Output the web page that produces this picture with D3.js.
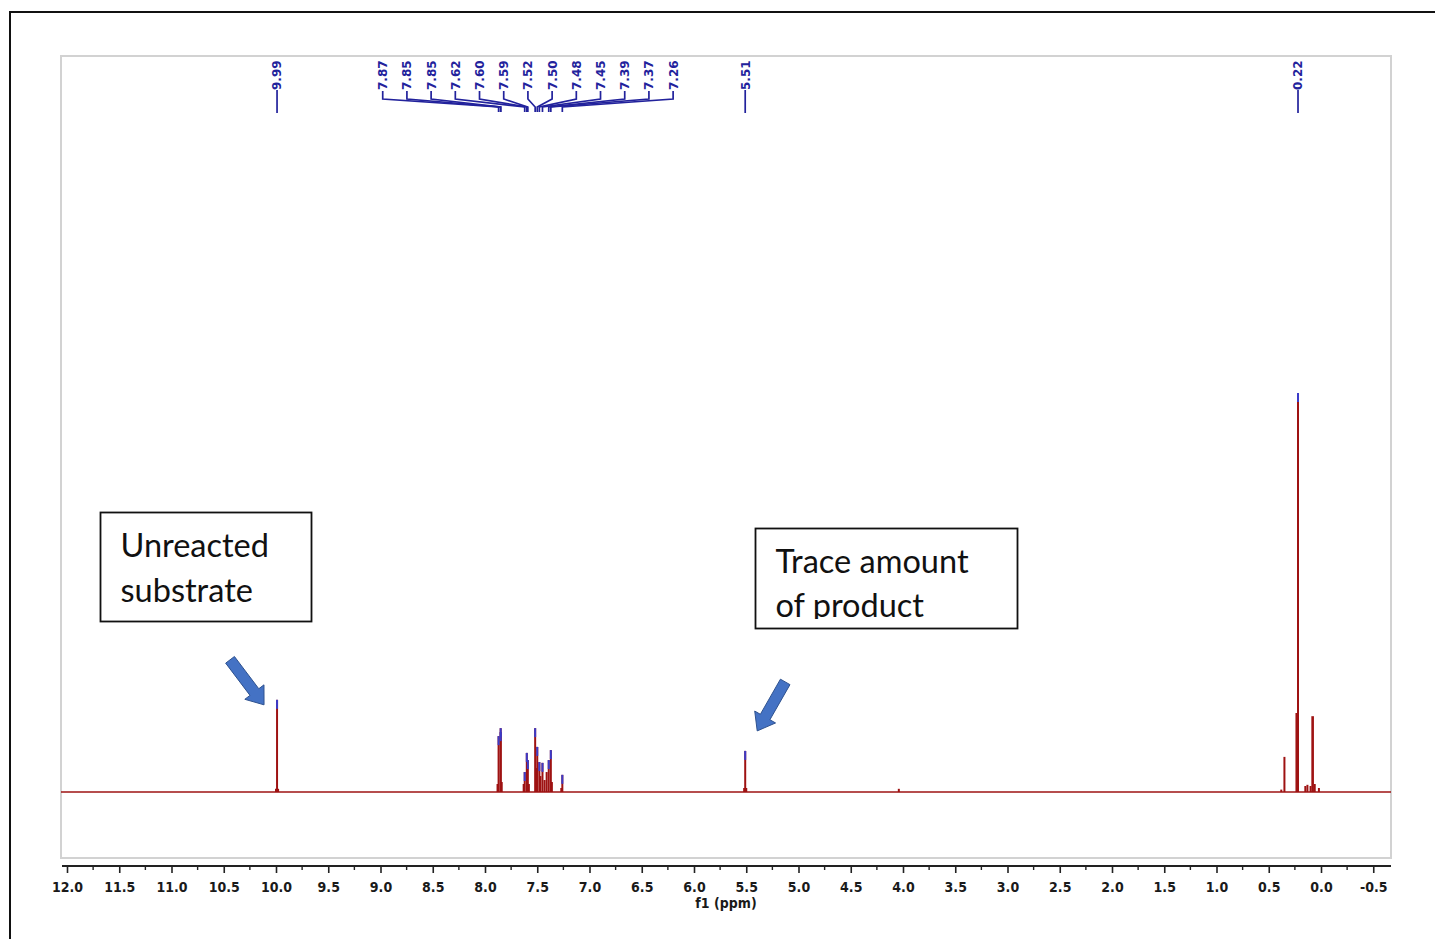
<!DOCTYPE html>
<html>
<head>
<meta charset="utf-8">
<script src="https://cdn.jsdelivr.net/npm/d3@7"></script>
<style>
  html, body { margin: 0; padding: 0; background: #fff; overflow: hidden; }
  svg { display: block; }
</style>
</head>
<body>
<svg id="chart" width="1435" height="939"></svg>
<script>
// Picked 1H NMR lines (ppm) and their intensities, scaled so the 0.22 ppm line = 100
const pickedShifts  = [9.99, 7.87, 7.85, 7.85, 7.62, 7.60, 7.59, 7.52, 7.50, 7.48, 7.45, 7.39, 7.37, 7.26, 5.51, 0.22];
const pickedHeights = [23.1, 14.0, 16.0, 15.0, 5.0, 9.8, 8.0, 16.0, 11.3, 7.5, 7.3, 8.0, 10.5, 4.3, 10.3, 100];
const pickedLabels  = ["9.99", "7.87", "7.85", "7.85", "7.62", "7.60", "7.59", "7.52", "7.50", "7.48", "7.45", "7.39", "7.37", "7.26", "5.51", "0.22"];

// Lines that were not picked (shoulders, satellites, small impurities)
const otherShifts  = [10.00, 9.98, 7.88, 7.84, 7.63, 7.58, 7.51, 7.47, 7.43, 7.41, 7.36, 7.27, 5.52, 5.50, 4.04, 0.35, 0.232, 0.15, 0.13, 0.10, 0.08, 0.06, 0.02, 0.38];
const otherHeights = [0.8, 0.8, 2.0, 2.5, 2.0, 2.0, 6.0, 4.0, 3.0, 5.0, 2.5, 1.0, 1.0, 1.0, 0.8, 8.8, 19.8, 1.5, 1.8, 1.5, 19.0, 2.0, 1.0, 0.6];

// Chemical shift axis
const xTickValues = [12.0, 11.5, 11.0, 10.5, 10.0, 9.5, 9.0, 8.5, 8.0, 7.5, 7.0, 6.5, 6.0, 5.5, 5.0, 4.5, 4.0, 3.5, 3.0, 2.5, 2.0, 1.5, 1.0, 0.5, 0.0, -0.5];
const xTickLabels = ["12.0", "11.5", "11.0", "10.5", "10.0", "9.5", "9.0", "8.5", "8.0", "7.5", "7.0", "6.5", "6.0", "5.5", "5.0", "4.5", "4.0", "3.5", "3.0", "2.5", "2.0", "1.5", "1.0", "0.5", "0.0", "-0.5"];
const xAxisTitle = "f1 (ppm)";

// Callout texts
const calloutSubstrate = ["Unreacted", "substrate"];
const calloutProduct = ["Trace amount", "of product"];

const svg = d3.select("#chart");

// frame and plot area
const box = { left: 61, top: 56, right: 1391, bottom: 858 };
const x = d3.scaleLinear().domain([12, 0]).range([67, 1321]);
const y = d3.scaleLinear().domain([0, 100]).range([792, 393]);

const RED = "#9e1212";
const BLUE_TIP = "#3b3bc8";
const LABEL_BLUE = "#22229c";
const AXIS_FONT = "'DejaVu Sans Condensed', 'DejaVu Sans', sans-serif";

// outer page frame
svg.append("rect")
  .attr("x", 10).attr("y", 12)
  .attr("width", 1500).attr("height", 1000)
  .attr("fill", "none").attr("stroke", "#111").attr("stroke-width", 2);

// spectrum panel
svg.append("rect")
  .attr("x", box.left).attr("y", box.top)
  .attr("width", box.right - box.left).attr("height", box.bottom - box.top)
  .attr("fill", "#fff").attr("stroke", "#d2d2d2").attr("stroke-width", 2);

// ---- x axis ----
const axisY = 866;
const xAxis = d3.axisBottom(x)
  .tickValues(xTickValues)
  .tickFormat((d, i) => xTickLabels[i])
  .tickSize(7)
  .tickPadding(9)
  .tickSizeOuter(0);

const gx = svg.append("g").attr("transform", `translate(0,${axisY})`).call(xAxis);
gx.select(".domain").remove();
gx.selectAll(".tick line").attr("stroke", "#222").attr("stroke-width", 1.6);
gx.selectAll(".tick text")
  .attr("fill", "#1a1a1a")
  .attr("font-family", AXIS_FONT)
  .attr("font-stretch", "condensed")
  .attr("font-weight", "bold")
  .attr("font-size", 14)
  .attr("dy", "0.71em");

// axis baseline across the whole panel width
svg.append("line")
  .attr("x1", box.left + 1).attr("x2", box.right)
  .attr("y1", axisY).attr("y2", axisY)
  .attr("stroke", "#222").attr("stroke-width", 2);

// minor ticks halfway between labelled ticks
const minorTicks = xTickValues.slice(0, -1).map(v => v - 0.25);
svg.append("g").selectAll("line").data(minorTicks).join("line")
  .attr("x1", d => x(d)).attr("x2", d => x(d))
  .attr("y1", axisY).attr("y2", axisY + 4)
  .attr("stroke", "#222").attr("stroke-width", 1.4);

svg.append("text")
  .attr("x", 726).attr("y", 908)
  .attr("text-anchor", "middle")
  .attr("font-family", AXIS_FONT)
  .attr("font-stretch", "condensed")
  .attr("font-weight", "bold")
  .attr("font-size", 14)
  .attr("fill", "#1a1a1a")
  .text(xAxisTitle);

// ---- spectrum ----
const spec = svg.append("g");
const line = d3.line().x(d => x(d[0])).y(d => y(d[1]));
// baseline
spec.append("path")
  .attr("d", line([[x.invert(box.left), 0], [x.invert(box.right), 0]]))
  .attr("stroke", RED).attr("stroke-width", 1.6).attr("fill", "none");

const others = otherShifts.map((s, i) => ({ s, h: otherHeights[i] }));
spec.append("g").selectAll("line").data(others).join("line")
  .attr("x1", d => x(d.s)).attr("x2", d => x(d.s))
  .attr("y1", y(0)).attr("y2", d => y(d.h))
  .attr("stroke", RED).attr("stroke-width", d => d.h > 15 ? 2.6 : 2);

const picked = pickedShifts.map((s, i) => ({ s, h: pickedHeights[i], label: pickedLabels[i] }));
spec.append("g").selectAll("line").data(picked).join("line")
  .attr("x1", d => x(d.s)).attr("x2", d => x(d.s))
  .attr("y1", y(0)).attr("y2", d => y(d.h))
  .attr("stroke", RED).attr("stroke-width", 2);

// peak-pick marks on top of the picked lines
spec.append("g").selectAll("line").data(picked).join("line")
  .attr("x1", d => x(d.s)).attr("x2", d => x(d.s))
  .attr("y1", d => y(d.h)).attr("y2", d => y(d.h) + 9)
  .attr("stroke", BLUE_TIP).attr("stroke-width", 2);

// ---- peak labels along the top ----
const spacing = 24.2;
const sorted = picked.map(d => ({ ...d, px: x(d.s) })).sort((a, b) => a.px - b.px);
// group labels that would overlap, then spread each group evenly around its centre
const groups = [];
sorted.forEach(d => {
  const g = groups[groups.length - 1];
  if (g && d.px - g[g.length - 1].px < spacing) g.push(d); else groups.push([d]);
});
groups.forEach(g => {
  const mean = d3.mean(g, d => d.px) - 2.5;
  g.forEach((d, i) => { d.lx = g.length === 1 ? d.px : mean + (i - (g.length - 1) / 2) * spacing; d.grouped = g.length > 1; });
});

const labels = svg.append("g");
labels.selectAll("text").data(sorted).join("text")
  .attr("transform", d => `translate(${d.lx},90) rotate(-90)`)
  .attr("dy", "0.37em")
  .attr("text-anchor", "start")
  .attr("font-family", "'DejaVu Sans', sans-serif")
  .attr("font-weight", "bold")
  .attr("font-size", 12)
  .attr("fill", LABEL_BLUE)
  .text(d => d.label);

labels.selectAll("path").data(sorted).join("path")
  .attr("d", d => d.grouped
    ? `M${d.lx},91 V99 L${d.px},107 V112`
    : `M${d.lx},90 V113`)
  .attr("fill", "none")
  .attr("stroke", LABEL_BLUE)
  .attr("stroke-width", 1.7);

// ---- callouts ----
const calloutFont = "Lato, 'Open Sans', sans-serif";

function callout(rect, lines, lineY, clipBottom) {
  const id = "clip" + Math.round(rect.x);
  svg.append("clipPath").attr("id", id)
    .append("rect").attr("x", rect.x).attr("y", rect.y).attr("width", rect.w).attr("height", clipBottom - rect.y);
  svg.append("rect")
    .attr("x", rect.x).attr("y", rect.y).attr("width", rect.w).attr("height", rect.h)
    .attr("fill", "#fff").attr("stroke", "#111").attr("stroke-width", 1.8);
  const t = svg.append("g").attr("clip-path", `url(#${id})`);
  lines.forEach((txt, i) => {
    t.append("text")
      .attr("x", rect.x + 20).attr("y", lineY[i])
      .attr("font-family", calloutFont)
      .attr("font-size", 32.5)
      .attr("fill", "#111")
      .text(txt);
  });
}

callout({ x: 100.5, y: 512.5, w: 211, h: 109 }, calloutSubstrate, [557, 602], 622);
callout({ x: 755.5, y: 528.5, w: 262, h: 100 }, calloutProduct, [573, 617], 619);

// block arrows pointing at the substrate and product lines
function blockArrow(tail, tip) {
  const dx = tip[0] - tail[0], dy = tip[1] - tail[1];
  const len = Math.hypot(dx, dy);
  const ux = dx / len, uy = dy / len, nx = -uy, ny = ux;
  const shaft = 5.5, head = 12, headLen = 16;
  const hx = tip[0] - ux * headLen, hy = tip[1] - uy * headLen;
  const pts = [
    [tail[0] + nx * shaft, tail[1] + ny * shaft],
    [hx + nx * shaft, hy + ny * shaft],
    [hx + nx * head, hy + ny * head],
    tip,
    [hx - nx * head, hy - ny * head],
    [hx - nx * shaft, hy - ny * shaft],
    [tail[0] - nx * shaft, tail[1] - ny * shaft]
  ];
  svg.append("path")
    .attr("d", "M" + pts.map(p => p.join(",")).join("L") + "Z")
    .attr("fill", "#4472c4").attr("stroke", "#2f528f").attr("stroke-width", 1);
}

const sub = picked[0], prod = picked[14];
blockArrow([x(sub.s) - 47, y(sub.h) - 40], [x(sub.s) - 13, y(sub.h) + 5]);
blockArrow([x(prod.s) + 40, y(prod.h) - 69], [x(prod.s) + 12, y(prod.h) - 20]);
</script>
</body>
</html>
